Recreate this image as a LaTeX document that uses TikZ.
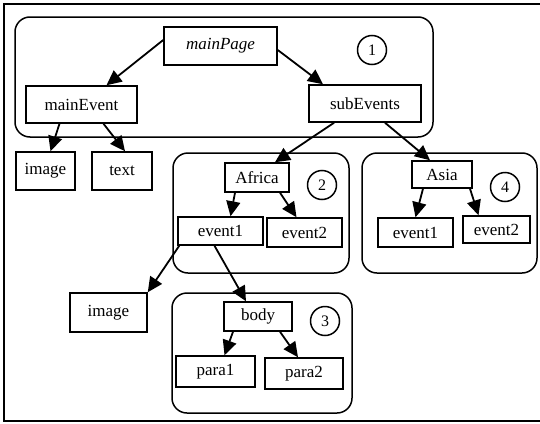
\documentclass[tikz,border=0pt]{standalone}
\usepackage{fontspec}
\setmainfont{Liberation Serif}
\usetikzlibrary{arrows.meta,calc}

\tikzstyle{box} = [
    rectangle,
    draw,
    line width=1.5pt,
    inner sep=0pt,
    font=\fontsize{17}{20}\selectfont
]
\tikzstyle{group} = [
    line width=1.5pt,
    rounded corners=15pt
]
\tikzstyle{num} = [
    circle,
    draw,
    line width=1.5pt,
    minimum size=29pt,
    inner sep=0pt,
    font=\fontsize{16}{18}\selectfont
]
\tikzstyle{arrow} = [
    -{Triangle[length=15pt,width=14pt]},
    line width=1.8pt
]

\begin{document}
\begin{tikzpicture}[x=1pt, y=-1pt]
    \useasboundingbox (0,0) rectangle (540,423);

    % Outer frame
    \draw[line width=1.5pt] (546,4) -- (4,4) -- (4,421) -- (546,421);

    % Groups
    \draw[group] (15,17) rectangle (433,137);
    \draw[group] (173,153) rectangle (349,273);
    \draw[group] (362,153) rectangle (537,273);
    \draw[group] (172,293) rectangle (352,413);

    % Group numbers
    \node[num] (one) at (372,50) {1};
    \node[num] (two) at (322,185) {2};
    \node[num] (three) at (325,321) {3};
    \node[num] (four) at (505,187) {4};

    % Main page
    \node[box, minimum width=113pt, minimum height=38pt, font=\fontsize{17}{20}\selectfont\itshape] (mainPage) at (220.5,46) {mainPage};
    \node[box, minimum width=111pt, minimum height=37pt] (mainEvent) at (81.5,104.5) {mainEvent};
    \node[box, minimum width=112pt, minimum height=37pt] (subEvents) at (365,103.5) {subEvents};
    \node[box, minimum width=59pt, minimum height=38pt] (mainImage) at (45.5,171) {image};
    \node[box, minimum width=60pt, minimum height=38pt] (mainText) at (122,171) {text};

    % Africa
    \node[box, minimum width=64pt, minimum height=29pt] (africa) at (257,177.5) {Africa};
    \node[box, minimum width=85pt, minimum height=28pt] (afEventA) at (220.5,231) {event1};
    \node[box, minimum width=75pt, minimum height=29pt] (afEventB) at (304.5,232.5) {event2};
    \node[box, minimum width=77pt, minimum height=39pt] (lowImage) at (108.5,312.5) {image};

    % Body
    \node[box, minimum width=68pt, minimum height=29pt] (body) at (258,316.5) {body};
    \node[box, minimum width=79pt, minimum height=31pt] (paraA) at (215.5,371.5) {para1};
    \node[box, minimum width=78pt, minimum height=31pt] (paraB) at (304,373.5) {para2};

    % Asia
    \node[box, minimum width=60pt, minimum height=27pt] (asia) at (442,174.5) {Asia};
    \node[box, minimum width=75pt, minimum height=29pt] (asEventA) at (415.5,232.5) {event1};
    \node[box, minimum width=67pt, minimum height=27pt] (asEventB) at (496.5,229.5) {event2};

    % Links
    \draw[arrow] ($(mainPage.west)+(0,-6)$) -- ($(mainEvent.north)+(25,0)$);
    \draw[arrow] ($(mainPage.east)+(0,4)$) -- ($(subEvents.north)+(-42,0)$);
    \draw[arrow] ($(mainEvent.south)+(-22,0)$) -- ($(mainImage.north)+(5,0)$);
    \draw[arrow] ($(mainEvent.south)+(22,0)$) -- ($(mainText.north)+(3,0)$);
    \draw[arrow] ($(subEvents.south)+(-31,0)$) -- ($(africa.north)+(18,0)$);
    \draw[arrow] ($(subEvents.south)+(20,0)$) -- ($(asia.north)+(-12,0)$);
    \draw[arrow] ($(africa.south)+(-22,0)$) -- ($(afEventA.north)+(10,0)$);
    \draw[arrow] ($(africa.south)+(23,0)$) -- ($(afEventB.north)+(-8,0)$);
    \draw[arrow] ($(asia.south)+(-19,0)$) -- (asEventA.north);
    \draw[arrow] ($(asia.south)+(28,0)$) -- ($(asEventB.north)+(-18,0)$);
    \draw[arrow] ($(afEventA.south west)+(2,0)$) -- (lowImage.north east);
    \draw[arrow] ($(afEventA.south)+(-6,0)$) -- ($(body.north)+(-12,0)$);
    \draw[arrow] ($(body.south)+(-25,0)$) -- ($(paraA.north)+(9,0)$);
    \draw[arrow] ($(body.south)+(22,0)$) -- ($(paraB.north)+(-6,0)$);
\end{tikzpicture}
\end{document}
